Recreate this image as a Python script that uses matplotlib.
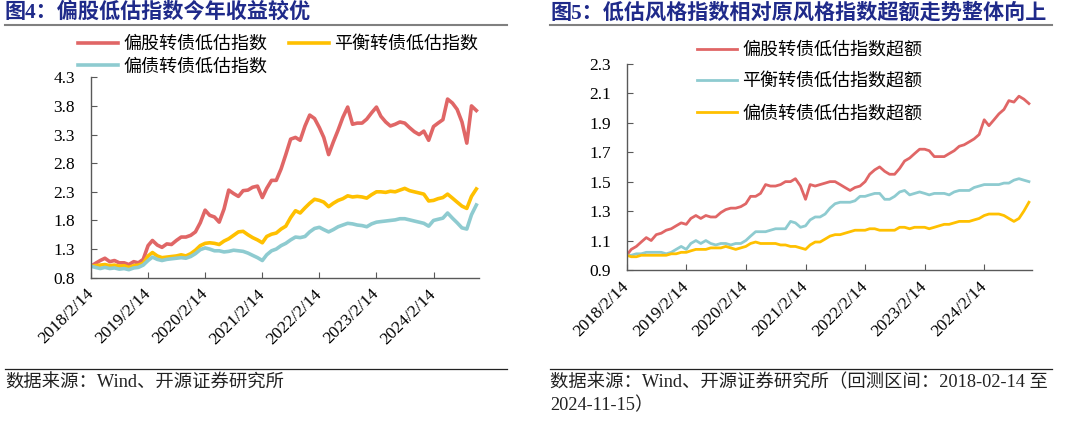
import matplotlib
matplotlib.use('Agg')
import matplotlib.pyplot as plt
from matplotlib.lines import Line2D
import pandas as pd

# monthly readings, 2018-02-14 .. 2024-11-14
dates = pd.date_range('2018-02-14', periods=82, freq=pd.DateOffset(months=1))

tick_dates = pd.to_datetime(['2018-02-14', '2019-02-14', '2020-02-14', '2021-02-14',
                             '2022-02-14', '2023-02-14', '2024-02-14'])
tick_labels = ['2018/2/14', '2019/2/14', '2020/2/14', '2021/2/14',
               '2022/2/14', '2023/2/14', '2024/2/14']

# fig 4: index level
names_l = ['偏股转债低估指数', '平衡转债低估指数', '偏债转债低估指数']
red_l = [1.00, 1.05, 1.10, 1.14, 1.08, 1.10, 1.06, 1.06, 1.03, 1.08, 1.06, 1.12,
         1.36, 1.45, 1.37, 1.33, 1.39, 1.38, 1.45, 1.51, 1.51, 1.54, 1.60, 1.76,
         1.98, 1.89, 1.86, 1.77, 2.00, 2.33, 2.27, 2.22, 2.32, 2.33, 2.38, 2.40,
         2.20, 2.36, 2.50, 2.50, 2.70, 2.95, 3.22, 3.25, 3.20, 3.45, 3.64, 3.58,
         3.42, 3.25, 2.95, 3.17, 3.38, 3.60, 3.78, 3.48, 3.50, 3.50, 3.57, 3.68,
         3.78, 3.62, 3.52, 3.45, 3.48, 3.52, 3.50, 3.42, 3.35, 3.30, 3.36, 3.20,
         3.44, 3.50, 3.56, 3.92, 3.85, 3.74, 3.52, 3.15, 3.80, 3.72]
yel_l = [1.00, 1.01, 1.02, 1.03, 1.01, 1.02, 1.00, 1.01, 0.98, 1.01, 1.02, 1.05,
         1.18, 1.24, 1.18, 1.15, 1.16, 1.17, 1.18, 1.20, 1.18, 1.22, 1.28, 1.36,
         1.40, 1.41, 1.40, 1.38, 1.44, 1.48, 1.54, 1.60, 1.61, 1.55, 1.50, 1.46,
         1.41, 1.52, 1.56, 1.58, 1.65, 1.70, 1.85, 1.97, 1.93, 2.02, 2.10, 2.17,
         2.15, 2.12, 2.04, 2.10, 2.15, 2.18, 2.23, 2.21, 2.22, 2.21, 2.19, 2.25,
         2.30, 2.30, 2.29, 2.31, 2.30, 2.33, 2.36, 2.32, 2.30, 2.28, 2.26, 2.14,
         2.15, 2.18, 2.20, 2.26, 2.19, 2.12, 2.05, 2.01, 2.22, 2.35]
blu_l = [1.00, 0.98, 0.96, 0.98, 0.96, 0.97, 0.95, 0.96, 0.94, 0.97, 0.98, 1.02,
         1.10, 1.16, 1.12, 1.10, 1.12, 1.13, 1.14, 1.15, 1.14, 1.17, 1.22, 1.29,
         1.32, 1.30, 1.27, 1.27, 1.25, 1.26, 1.28, 1.27, 1.26, 1.23, 1.19, 1.15,
         1.10, 1.20, 1.27, 1.30, 1.36, 1.40, 1.46, 1.51, 1.50, 1.52, 1.60, 1.66,
         1.68, 1.64, 1.60, 1.64, 1.69, 1.72, 1.75, 1.74, 1.72, 1.71, 1.69, 1.74,
         1.77, 1.78, 1.79, 1.80, 1.81, 1.83, 1.83, 1.81, 1.79, 1.77, 1.75, 1.70,
         1.80, 1.82, 1.84, 1.93, 1.84, 1.76, 1.67, 1.65, 1.90, 2.07]
yticks_l = [0.8, 1.3, 1.8, 2.3, 2.8, 3.3, 3.8, 4.3]

# fig 5: excess vs. parent style index
names_r = ['偏股转债低估指数超额', '平衡转债低估指数超额', '偏债转债低估指数超额']
red_r = [1.00, 1.04, 1.06, 1.09, 1.12, 1.10, 1.14, 1.15, 1.17, 1.18, 1.20, 1.22,
         1.21, 1.25, 1.27, 1.25, 1.27, 1.26, 1.26, 1.29, 1.31, 1.32, 1.32, 1.33,
         1.35, 1.40, 1.40, 1.42, 1.48, 1.47, 1.47, 1.48, 1.50, 1.50, 1.52, 1.47,
         1.38, 1.48, 1.47, 1.48, 1.49, 1.50, 1.50, 1.48, 1.46, 1.44, 1.46, 1.47,
         1.50, 1.55, 1.58, 1.60, 1.57, 1.55, 1.55, 1.59, 1.64, 1.66, 1.69, 1.72,
         1.72, 1.71, 1.67, 1.67, 1.67, 1.69, 1.71, 1.74, 1.75, 1.77, 1.79, 1.82,
         1.92, 1.88, 1.92, 1.96, 1.99, 2.05, 2.04, 2.08, 2.06, 2.03]
blu_r = [1.00, 1.00, 1.01, 1.01, 1.02, 1.02, 1.02, 1.02, 1.01, 1.02, 1.04, 1.06,
         1.04, 1.08, 1.10, 1.08, 1.10, 1.08, 1.07, 1.08, 1.08, 1.07, 1.08, 1.08,
         1.10, 1.13, 1.16, 1.16, 1.16, 1.17, 1.18, 1.18, 1.18, 1.23, 1.22, 1.19,
         1.20, 1.24, 1.26, 1.26, 1.28, 1.32, 1.35, 1.36, 1.36, 1.36, 1.37, 1.40,
         1.40, 1.41, 1.42, 1.42, 1.38, 1.38, 1.40, 1.43, 1.44, 1.41, 1.42, 1.43,
         1.42, 1.41, 1.42, 1.42, 1.42, 1.41, 1.43, 1.44, 1.44, 1.44, 1.46, 1.47,
         1.48, 1.48, 1.48, 1.48, 1.49, 1.49, 1.51, 1.52, 1.51, 1.50]
yel_r = [1.00, 0.99, 0.99, 1.00, 1.00, 1.00, 1.00, 1.00, 1.00, 1.01, 1.01, 1.02,
         1.02, 1.03, 1.04, 1.04, 1.04, 1.05, 1.05, 1.05, 1.06, 1.05, 1.04, 1.05,
         1.06, 1.08, 1.09, 1.08, 1.08, 1.08, 1.08, 1.07, 1.07, 1.06, 1.06, 1.05,
         1.04, 1.07, 1.09, 1.09, 1.11, 1.13, 1.14, 1.14, 1.15, 1.16, 1.17, 1.17,
         1.17, 1.18, 1.18, 1.17, 1.17, 1.17, 1.17, 1.19, 1.19, 1.18, 1.19, 1.19,
         1.19, 1.18, 1.19, 1.20, 1.21, 1.21, 1.22, 1.23, 1.23, 1.23, 1.24, 1.25,
         1.27, 1.28, 1.28, 1.28, 1.27, 1.25, 1.23, 1.25, 1.30, 1.36]
yticks_r = [0.9, 1.1, 1.3, 1.5, 1.7, 1.9, 2.1, 2.3]

RED = '#E06666'
YEL = '#FFC000'
BLU = '#8ECBD0'
NAVY = '#1F2A8A'
CJK = ['Noto Sans CJK SC', 'DejaVu Sans']
MIXED = ['Liberation Serif', 'Noto Sans CJK SC']


def styleAxis(ax, yticks):
    for side in ['top', 'right']:
        ax.spines[side].set_visible(False)
    for side in ['left', 'bottom']:
        ax.spines[side].set_color('#595959')
        ax.spines[side].set_linewidth(1.0)
    ax.set_xlim(pd.Timestamp('2018-02-14'), pd.Timestamp('2024-12-01'))
    ax.set_ylim(yticks[0], yticks[-1])
    ax.set_yticks(yticks)
    ax.set_yticklabels(['%.1f' % v for v in yticks], family='Liberation Serif', fontsize=12.5)
    ax.set_xticks(tick_dates)
    ax.set_xticklabels(tick_labels, family='Liberation Serif', fontsize=12.5,
                       rotation=45, ha='right', va='center', rotation_mode='anchor')
    ax.tick_params(axis='both', direction='in', length=4, color='#595959')
    ax.tick_params(axis='x', pad=10)
    ax.tick_params(axis='y', pad=11.5)


def frame(fig, x0, x1, title, source):
    fig.text(x0, 1 - 13 / 423, title, family=MIXED, fontsize=15.2, fontweight='bold',
             color=NAVY, va='center', ha='left')
    fig.add_artist(Line2D([x0, x1], [1 - 25 / 423, 1 - 25 / 423], color='#808080', lw=1.5))
    fig.add_artist(Line2D([x0, x1], [1 - 369 / 423, 1 - 369 / 423], color='#222222', lw=0.9))
    fig.text(x0, 1 - 374 / 423, source, family=MIXED, fontsize=13.2, color='#222222',
             va='top', ha='left', linespacing=1.4)


def main():
    fig = plt.figure(figsize=(10.8, 4.23), dpi=100)

    # left panel
    ax1 = fig.add_axes([91 / 1080, 1 - 277.7 / 423, 388 / 1080, 200.4 / 423])
    l_red, = ax1.plot(dates, red_l, color=RED, lw=2.6)
    l_yel, = ax1.plot(dates, yel_l, color=YEL, lw=2.6)
    l_blu, = ax1.plot(dates, blu_l, color=BLU, lw=2.6)
    styleAxis(ax1, yticks_l)
    fig.legend([l_red, l_blu, l_yel], [names_l[0], names_l[2], names_l[1]],
               ncol=2, loc='upper left', bbox_to_anchor=(78 / 1080, 1 - 35 / 423),
               frameon=False, prop={'family': CJK, 'size': 13}, borderpad=0,
               borderaxespad=0, handlelength=2.2, handletextpad=0.3,
               columnspacing=1.2, labelspacing=0.25)
    frame(fig, 5 / 1080, 507 / 1080, '图4：偏股低估指数今年收益较优',
          '数据来源：Wind、开源证券研究所')

    # right panel
    ax2 = fig.add_axes([626.7 / 1080, 1 - 270 / 423, 405 / 1080, 206.2 / 423])
    r_red, = ax2.plot(dates, red_r, color=RED, lw=2.0)
    r_blu, = ax2.plot(dates, blu_r, color=BLU, lw=2.0)
    r_yel, = ax2.plot(dates, yel_r, color=YEL, lw=2.0)
    styleAxis(ax2, yticks_r)
    fig.legend([r_red, r_blu, r_yel], names_r,
               loc='upper left', bbox_to_anchor=(697 / 1080, 1 - 41 / 423),
               frameon=False, prop={'family': CJK, 'size': 13}, borderpad=0,
               borderaxespad=0, handlelength=2.2, handletextpad=0.3,
               labelspacing=0.75)
    frame(fig, 550 / 1080, 1052 / 1080, '图5：低估风格指数相对原风格指数超额走势整体向上',
          '数据来源：Wind、开源证券研究所（回测区间：2018-02-14 至\n2024-11-15）')

    fig.savefig('out.png', dpi=100)


if __name__ == '__main__':
    main()
